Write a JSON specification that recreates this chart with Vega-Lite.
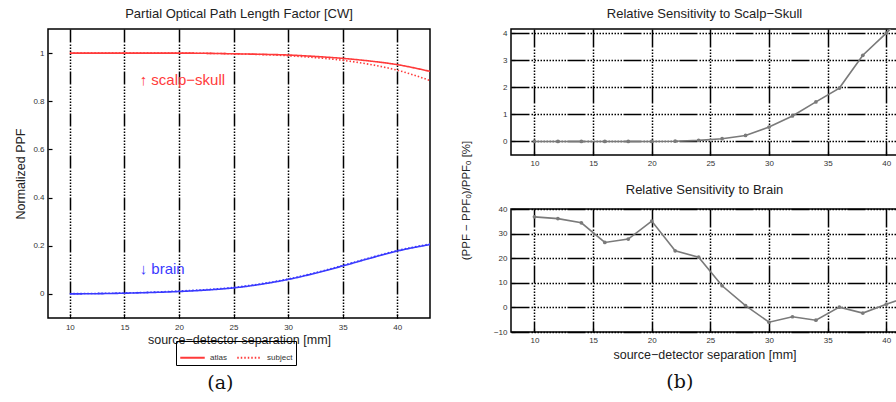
{
  "$schema": "https://vega.github.io/schema/vega-lite/v6.json",
  "background": "white",
  "padding": {"left": 14, "top": 7, "right": 0, "bottom": 0},
  "config": {
    "font": "Liberation Sans",
    "view": {"stroke": "#000", "strokeWidth": 1.5},
    "axis": {
      "domain": false,
      "labelFontSize": 8,
      "labelColor": "#333",
      "titleFontSize": 12.5,
      "titleColor": "#222",
      "titleFontWeight": "normal",
      "tickColor": "#000",
      "tickSize": -4,
      "tickWidth": 1.2,
      "gridColor": "#000",
      "gridOpacity": 1,
      "gridWidth": 1.5
    },
    "title": {"fontSize": 13, "fontWeight": "normal", "color": "#222", "offset": 8},
    "legend": {"labelFontSize": 8, "labelColor": "#333"}
  },
  "datasets": {
    "ppf": [
      {"sep": 10, "ppf": 1, "tissue": "scalp-skull", "model": "atlas"},
      {"sep": 12.5, "ppf": 1, "tissue": "scalp-skull", "model": "atlas"},
      {"sep": 15, "ppf": 1, "tissue": "scalp-skull", "model": "atlas"},
      {"sep": 17.5, "ppf": 1, "tissue": "scalp-skull", "model": "atlas"},
      {"sep": 20, "ppf": 1, "tissue": "scalp-skull", "model": "atlas"},
      {"sep": 22.5, "ppf": 0.999, "tissue": "scalp-skull", "model": "atlas"},
      {"sep": 25, "ppf": 0.997, "tissue": "scalp-skull", "model": "atlas"},
      {"sep": 27.5, "ppf": 0.995, "tissue": "scalp-skull", "model": "atlas"},
      {"sep": 30, "ppf": 0.992, "tissue": "scalp-skull", "model": "atlas"},
      {"sep": 32.5, "ppf": 0.986, "tissue": "scalp-skull", "model": "atlas"},
      {"sep": 35, "ppf": 0.978, "tissue": "scalp-skull", "model": "atlas"},
      {"sep": 37.5, "ppf": 0.967, "tissue": "scalp-skull", "model": "atlas"},
      {"sep": 40, "ppf": 0.952, "tissue": "scalp-skull", "model": "atlas"},
      {"sep": 43, "ppf": 0.924, "tissue": "scalp-skull", "model": "atlas"},
      {"sep": 10, "ppf": 1, "tissue": "scalp-skull", "model": "subject"},
      {"sep": 12.5, "ppf": 1, "tissue": "scalp-skull", "model": "subject"},
      {"sep": 15, "ppf": 1, "tissue": "scalp-skull", "model": "subject"},
      {"sep": 17.5, "ppf": 1, "tissue": "scalp-skull", "model": "subject"},
      {"sep": 20, "ppf": 1, "tissue": "scalp-skull", "model": "subject"},
      {"sep": 22.5, "ppf": 0.999, "tissue": "scalp-skull", "model": "subject"},
      {"sep": 25, "ppf": 0.997, "tissue": "scalp-skull", "model": "subject"},
      {"sep": 27.5, "ppf": 0.994, "tissue": "scalp-skull", "model": "subject"},
      {"sep": 30, "ppf": 0.989, "tissue": "scalp-skull", "model": "subject"},
      {"sep": 32.5, "ppf": 0.981, "tissue": "scalp-skull", "model": "subject"},
      {"sep": 35, "ppf": 0.97, "tissue": "scalp-skull", "model": "subject"},
      {"sep": 37.5, "ppf": 0.953, "tissue": "scalp-skull", "model": "subject"},
      {"sep": 40, "ppf": 0.929, "tissue": "scalp-skull", "model": "subject"},
      {"sep": 43, "ppf": 0.886, "tissue": "scalp-skull", "model": "subject"},
      {"sep": 10, "ppf": 0, "tissue": "brain", "model": "atlas"},
      {"sep": 12.5, "ppf": 0.001, "tissue": "brain", "model": "atlas"},
      {"sep": 15, "ppf": 0.003, "tissue": "brain", "model": "atlas"},
      {"sep": 17.5, "ppf": 0.006, "tissue": "brain", "model": "atlas"},
      {"sep": 20, "ppf": 0.01, "tissue": "brain", "model": "atlas"},
      {"sep": 22.5, "ppf": 0.016, "tissue": "brain", "model": "atlas"},
      {"sep": 25, "ppf": 0.025, "tissue": "brain", "model": "atlas"},
      {"sep": 27.5, "ppf": 0.04, "tissue": "brain", "model": "atlas"},
      {"sep": 30, "ppf": 0.06, "tissue": "brain", "model": "atlas"},
      {"sep": 32.5, "ppf": 0.086, "tissue": "brain", "model": "atlas"},
      {"sep": 35, "ppf": 0.116, "tissue": "brain", "model": "atlas"},
      {"sep": 37.5, "ppf": 0.148, "tissue": "brain", "model": "atlas"},
      {"sep": 40, "ppf": 0.178, "tissue": "brain", "model": "atlas"},
      {"sep": 43, "ppf": 0.205, "tissue": "brain", "model": "atlas"},
      {"sep": 10, "ppf": 0.001, "tissue": "brain", "model": "subject"},
      {"sep": 12.5, "ppf": 0.002, "tissue": "brain", "model": "subject"},
      {"sep": 15, "ppf": 0.004, "tissue": "brain", "model": "subject"},
      {"sep": 17.5, "ppf": 0.007, "tissue": "brain", "model": "subject"},
      {"sep": 20, "ppf": 0.012, "tissue": "brain", "model": "subject"},
      {"sep": 22.5, "ppf": 0.018, "tissue": "brain", "model": "subject"},
      {"sep": 25, "ppf": 0.027, "tissue": "brain", "model": "subject"},
      {"sep": 27.5, "ppf": 0.042, "tissue": "brain", "model": "subject"},
      {"sep": 30, "ppf": 0.062, "tissue": "brain", "model": "subject"},
      {"sep": 32.5, "ppf": 0.088, "tissue": "brain", "model": "subject"},
      {"sep": 35, "ppf": 0.118, "tissue": "brain", "model": "subject"},
      {"sep": 37.5, "ppf": 0.15, "tissue": "brain", "model": "subject"},
      {"sep": 40, "ppf": 0.18, "tissue": "brain", "model": "subject"},
      {"sep": 43, "ppf": 0.207, "tissue": "brain", "model": "subject"}
    ],
    "labelsA": [
      {"sep": 16.4, "ppf": 0.89, "tissue": "scalp-skull", "label": "↑ scalp−skull"},
      {"sep": 16.4, "ppf": 0.102, "tissue": "brain", "label": "↓ brain"}
    ],
    "scalp": [
      {"sep": 10, "rel": 0}, {"sep": 12, "rel": 0}, {"sep": 14, "rel": 0},
      {"sep": 16, "rel": 0}, {"sep": 18, "rel": 0}, {"sep": 20, "rel": 0},
      {"sep": 22, "rel": 0.01}, {"sep": 24, "rel": 0.04}, {"sep": 26, "rel": 0.1},
      {"sep": 28, "rel": 0.22}, {"sep": 30, "rel": 0.53}, {"sep": 32, "rel": 0.94},
      {"sep": 34, "rel": 1.46}, {"sep": 36, "rel": 1.97}, {"sep": 38, "rel": 3.18},
      {"sep": 40, "rel": 4.0}, {"sep": 42, "rel": 4.9}
    ],
    "brain": [
      {"sep": 10, "rel": 36.8}, {"sep": 12, "rel": 36.1}, {"sep": 14, "rel": 34.4},
      {"sep": 16, "rel": 26.4}, {"sep": 18, "rel": 27.8}, {"sep": 20, "rel": 35.1},
      {"sep": 22, "rel": 23.0}, {"sep": 24, "rel": 20.4}, {"sep": 26, "rel": 8.8},
      {"sep": 28, "rel": 0.7}, {"sep": 30, "rel": -6.0}, {"sep": 32, "rel": -3.8},
      {"sep": 34, "rel": -5.2}, {"sep": 36, "rel": 0.1}, {"sep": 38, "rel": -2.3},
      {"sep": 40, "rel": 1.3}, {"sep": 42, "rel": 4.5}
    ]
  },
  "bounds": "flush",
  "spacing": 81,
  "hconcat": [
    {
      "width": 382,
      "height": 289,
      "title": "Partial Optical Path Length Factor [CW]",
      "layer": [
        {
          "data": {"name": "ppf"},
          "mark": {"type": "line", "interpolate": "monotone", "strokeWidth": 1.6, "clip": true},
          "encoding": {
            "x": {"field": "sep", "type": "quantitative",
              "scale": {"domain": [8, 43], "nice": false, "zero": false},
              "axis": {"values": [10, 15, 20, 25, 30, 35, 40], "grid": true,
                "gridDash": [13, 2, 1.5, 1.5, 1.5, 1.5, 1.5, 1.5, 1.5, 1.5, 1.5, 1.5, 1.5, 1.5, 1.5, 1.5, 1.5, 1.5, 1.5, 1.5],
                "labelPadding": 9, "titlePadding": 2,
                "title": "source−detector separation [mm]"}},
            "y": {"field": "ppf", "type": "quantitative",
              "scale": {"domain": [-0.1, 1.1], "nice": false, "zero": false},
              "axis": {"values": [0, 0.2, 0.4, 0.6, 0.8, 1], "format": "~g", "grid": false,
                "labelPadding": 8, "titlePadding": 5, "title": "Normalized PPF"}},
            "color": {"field": "tissue", "type": "nominal",
              "scale": {"domain": ["scalp-skull", "brain"], "range": ["#ff3a3a", "#3a3aff"]},
              "legend": null},
            "strokeDash": {"field": "model", "type": "nominal",
              "scale": {"domain": ["atlas", "subject"], "range": [[1, 0], [1.5, 2]]},
              "legend": {"orient": "none", "legendX": 128, "legendY": 312,
                "direction": "horizontal", "title": null,
                "symbolType": "stroke", "symbolStrokeColor": "#ff3a3a",
                "symbolStrokeWidth": 2, "symbolSize": 600,
                "strokeColor": "#000", "padding": 3, "columnPadding": 6,
                "labelFontSize": 8}}
          }
        },
        {
          "data": {"name": "labelsA"},
          "mark": {"type": "text", "align": "left", "baseline": "middle", "fontSize": 15},
          "encoding": {
            "x": {"field": "sep", "type": "quantitative"},
            "y": {"field": "ppf", "type": "quantitative"},
            "text": {"field": "label"},
            "color": {"field": "tissue", "type": "nominal", "legend": null}
          }
        },
        {
          "data": {"values": [{"sep": 23.8, "ppf": -0.37, "label": "(a)"}]},
          "mark": {"type": "text", "font": "DejaVu Serif", "fontSize": 19, "color": "#111", "baseline": "middle", "clip": false},
          "encoding": {
            "x": {"field": "sep", "type": "quantitative"},
            "y": {"field": "ppf", "type": "quantitative"},
            "text": {"field": "label"}
          }
        }
      ]
    },
    {
      "bounds": "flush",
      "spacing": 54,
      "vconcat": [
        {
          "width": 387,
          "height": 126,
          "title": "Relative Sensitivity to Scalp−Skull",
          "data": {"name": "scalp"},
          "encoding": {
            "x": {"field": "sep", "type": "quantitative",
              "scale": {"domain": [8, 41], "nice": false, "zero": false},
              "axis": {"values": [10, 15, 20, 25, 30, 35, 40], "grid": true,
                "gridDash": [18, 2, 1.5, 1.5, 1.5, 1.5, 1.5, 1.5, 1.5, 1.5, 1.5, 1.5, 1.5, 1.5, 1.5, 1.5, 1.5, 1.5, 1.5, 1.5, 1.5, 1.5, 1.5, 1.5, 1.5, 1.5],
                "labelPadding": 8, "title": null}},
            "y": {"field": "rel", "type": "quantitative",
              "scale": {"domain": [-0.5, 4.15], "nice": false, "zero": false},
              "axis": {"values": [0, 1, 2, 3, 4], "grid": true,
                "gridDash": [18, 2, 1.5, 1.5, 1.5, 1.5, 1.5, 1.5, 1.5, 1.5, 1.5, 1.5, 1.5, 1.5, 1.5, 1.5, 1.5, 1.5, 1.5, 1.5, 1.5, 1.5, 1.5, 1.5, 1.5, 1.5],
                "labelPadding": 8, "titlePadding": 31, "titleY": 171, "titleFontSize": 11.5,
                "title": "(PPF − PPFₒ)/PPFₒ [%]"}}
          },
          "layer": [
            {"mark": {"type": "line", "color": "#7a7a7a", "strokeWidth": 1.6, "clip": true}},
            {"mark": {"type": "point", "shape": "circle", "filled": true, "color": "#7a7a7a", "size": 14, "opacity": 1, "clip": true}}
          ]
        },
        {
          "width": 387,
          "height": 123,
          "title": "Relative Sensitivity to Brain",
          "data": {"name": "brain"},
          "encoding": {
            "x": {"field": "sep", "type": "quantitative",
              "scale": {"domain": [8, 41], "nice": false, "zero": false},
              "axis": {"values": [10, 15, 20, 25, 30, 35, 40], "grid": true,
                "gridDash": [18, 2, 1.5, 1.5, 1.5, 1.5, 1.5, 1.5, 1.5, 1.5, 1.5, 1.5, 1.5, 1.5, 1.5, 1.5, 1.5, 1.5, 1.5, 1.5, 1.5, 1.5, 1.5, 1.5, 1.5, 1.5],
                "labelPadding": 8, "titlePadding": 4,
                "title": "source−detector separation [mm]"}},
            "y": {"field": "rel", "type": "quantitative",
              "scale": {"domain": [-10, 40], "nice": false, "zero": false},
              "axis": {"values": [-10, 0, 10, 20, 30, 40], "grid": true,
                "gridDash": [18, 2, 1.5, 1.5, 1.5, 1.5, 1.5, 1.5, 1.5, 1.5, 1.5, 1.5, 1.5, 1.5, 1.5, 1.5, 1.5, 1.5, 1.5, 1.5, 1.5, 1.5, 1.5, 1.5, 1.5, 1.5],
                "labelPadding": 8, "title": null}}
          },
          "layer": [
            {"mark": {"type": "line", "color": "#7a7a7a", "strokeWidth": 1.6, "clip": true}},
            {"mark": {"type": "point", "shape": "circle", "filled": true, "color": "#7a7a7a", "size": 14, "opacity": 1, "clip": true}},
            {
              "data": {"values": [{"sep": 22.4, "rel": -30.5, "label": "(b)"}]},
              "mark": {"type": "text", "font": "DejaVu Serif", "fontSize": 19, "color": "#111", "baseline": "middle", "clip": false},
              "encoding": {"text": {"field": "label"}}
            }
          ]
        }
      ]
    }
  ]
}
